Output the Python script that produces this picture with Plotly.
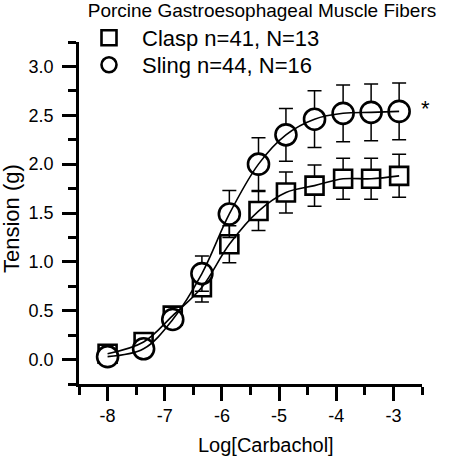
import plotly.graph_objects as go

# ---- data ----
log_carbachol = [-8.0, -7.37, -6.86, -6.35, -5.87, -5.36, -4.88, -4.38, -3.88, -3.39, -2.90]
clasp_tension = [0.06, 0.18, 0.45, 0.74, 1.18, 1.52, 1.71, 1.78, 1.85, 1.85, 1.88]
clasp_err = [0.03, 0.05, 0.09, 0.15, 0.19, 0.20, 0.21, 0.21, 0.21, 0.21, 0.22]
sling_tension = [0.03, 0.11, 0.41, 0.88, 1.49, 2.00, 2.30, 2.46, 2.52, 2.53, 2.54]
sling_err = [0.02, 0.04, 0.07, 0.18, 0.24, 0.27, 0.27, 0.29, 0.29, 0.29, 0.29]

x_ticks = [-8, -7, -6, -5, -4, -3]
x_tick_labels = ["-8", "-7", "-6", "-5", "-4", "-3"]
clasp_label = "Clasp n=41, N=13"
sling_label = "Sling n=44, N=16"
title_text = "Porcine Gastroesophageal Muscle Fibers"

FONT = "Liberation Sans, Arial, Helvetica, sans-serif"

fig = go.Figure()

# markers with error bars (error bars drawn beneath markers)
fig.add_trace(go.Scatter(
    x=log_carbachol, y=clasp_tension, mode="markers", showlegend=False,
    marker=dict(symbol="square", size=18, color="white", line=dict(color="black", width=2.6)),
    error_y=dict(type="data", array=clasp_err, visible=True, color="black", thickness=1.5, width=7),
))
fig.add_trace(go.Scatter(
    x=log_carbachol, y=sling_tension, mode="markers", showlegend=False,
    marker=dict(symbol="circle", size=21, color="white", line=dict(color="black", width=2.6)),
    error_y=dict(type="data", array=sling_err, visible=True, color="black", thickness=1.5, width=7),
))
# smooth curves through the points
fig.add_trace(go.Scatter(
    x=log_carbachol, y=clasp_tension, mode="lines", showlegend=False,
    line=dict(color="black", width=1.6, shape="spline", smoothing=1.0),
))
fig.add_trace(go.Scatter(
    x=log_carbachol, y=sling_tension, mode="lines", showlegend=False,
    line=dict(color="black", width=1.6, shape="spline", smoothing=1.0),
))
# legend entries (one legend box each, so rows can be placed exactly)
fig.add_trace(go.Scatter(
    x=[None], y=[None], mode="markers", name=clasp_label, legend="legend",
    marker=dict(symbol="square", size=15, color="white", line=dict(color="black", width=2.6)),
))
fig.add_trace(go.Scatter(
    x=[None], y=[None], mode="markers", name=sling_label, legend="legend2",
    marker=dict(symbol="circle", size=15, color="white", line=dict(color="black", width=2.6)),
))

axis_common = dict(
    showline=True, linecolor="black", linewidth=2.5, mirror=False,
    ticks="outside", ticklen=14, tickwidth=2.5, tickcolor="black",
    showgrid=False, zeroline=False, automargin=False,
    tickfont=dict(family=FONT, size=18, color="black"),
)

legend_common = dict(
    xref="container", yref="container", xanchor="left", yanchor="top",
    bgcolor="rgba(0,0,0,0)", itemwidth=56,
    font=dict(family=FONT, size=22, color="black"),
)

fig.update_layout(
    width=450, height=460,
    margin=dict(l=79, r=28, t=42, b=76, autoexpand=False),
    paper_bgcolor="white", plot_bgcolor="white",
    font=dict(family=FONT, color="black"),
    title=dict(text=title_text, font=dict(family=FONT, size=19, color="black"),
               xref="container", x=262 / 450, xanchor="center",
               yref="container", y=1 - 4 / 460, yanchor="top"),
    xaxis=dict(range=[-8.5, -2.5], tickvals=x_ticks, ticktext=x_tick_labels,
               minor=dict(dtick=0.5, tick0=-8.5, ticklen=8, tickwidth=2.5, tickcolor="black", ticks="outside"),
               **axis_common),
    yaxis=dict(range=[-0.25, 3.25], tick0=0, dtick=0.5, tickformat=".1f", ticklabelstandoff=5,
               minor=dict(dtick=0.25, tick0=0, ticklen=8, tickwidth=2.5, tickcolor="black", ticks="outside"),
               **axis_common),
    legend=dict(x=76 / 450, y=1 - 17 / 460, **legend_common),
    legend2=dict(x=76 / 450, y=1 - 44 / 460, **legend_common),
    showlegend=True,
    annotations=[
        dict(text="Log[Carbachol]", xref="paper", yref="paper",
             x=(266 - 79) / 343, y=(384 - 458) / 342, xanchor="center", yanchor="bottom",
             showarrow=False, font=dict(family=FONT, size=20, color="black")),
        dict(text="Tension (g)", xref="paper", yref="paper", textangle=-90,
             x=(11 - 79) / 343, y=(384 - 219) / 342, xanchor="center", yanchor="middle",
             showarrow=False, font=dict(family=FONT, size=22, color="black")),
        dict(text="*", xref="paper", yref="paper",
             x=(425 - 79) / 343, y=(384 - 108) / 342, xanchor="center", yanchor="middle",
             showarrow=False, font=dict(family=FONT, size=22, color="black")),
    ],
)

fig.write_html("out.html", config={"displayModeBar": False},
               post_script="document.body.style.margin='0px';")
